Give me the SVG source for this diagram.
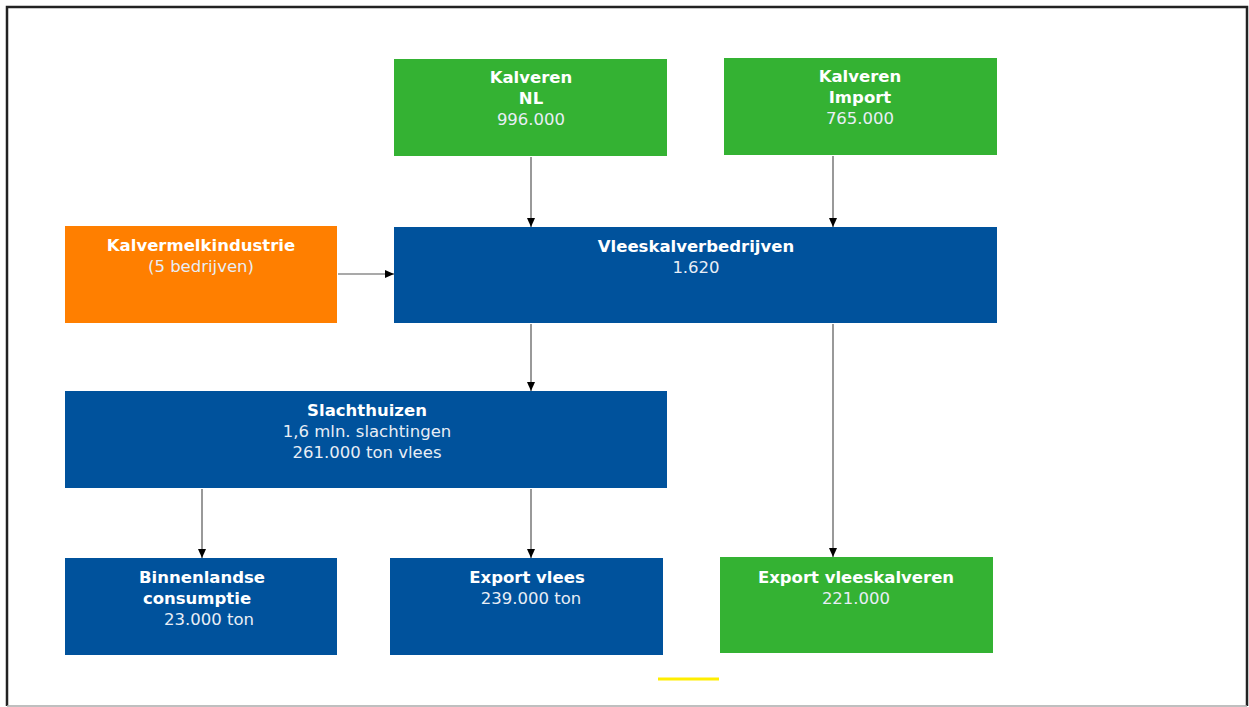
<svg xmlns="http://www.w3.org/2000/svg" width="1249" height="707" viewBox="0 0 1249 707">
<defs>
<marker id="ah" markerWidth="9" markerHeight="8" refX="9" refY="4" orient="auto" markerUnits="userSpaceOnUse">
<path d="M0,0 L9,4 L0,8 Z" fill="#000"/>
</marker>
<style>
.g{fill:#34b233}
.o{fill:#ff7f00}
.b{fill:#00529c}
text{font-family:"DejaVu Sans",Verdana,sans-serif;font-size:16.5px;fill:#fff;text-anchor:middle}
.t{font-weight:bold}
.n{fill:#e8eef6}
.c line{stroke:#555;stroke-width:1.2;marker-end:url(#ah)}
</style>
</defs>
<rect x="0" y="0" width="1249" height="707" fill="#fff"/>
<path d="M7,706 L7,7 L1247,7 L1247,706" fill="none" stroke="#222" stroke-width="2.5"/>
<line x1="7" y1="706" x2="1247" y2="706" stroke="#aaa" stroke-width="1.5"/>
<g id="kalveren-nl"><rect class="g" x="394" y="59" width="273" height="97"/><text class="t" x="531" y="83">Kalveren</text><text class="t" x="531" y="104">NL</text><text class="n" x="531" y="125">996.000</text></g>
<g id="kalveren-import"><rect class="g" x="724" y="58" width="273" height="97"/><text class="t" x="860" y="82">Kalveren</text><text class="t" x="860" y="103">Import</text><text class="n" x="860" y="124">765.000</text></g>
<g id="kalvermelkindustrie"><rect class="o" x="65" y="226" width="272" height="97"/><text class="t" x="201" y="251">Kalvermelkindustrie</text><text class="n" x="201" y="272">(5 bedrijven)</text></g>
<g id="vleeskalverbedrijven"><rect class="b" x="394" y="227" width="603" height="96"/><text class="t" x="696" y="252">Vleeskalverbedrijven</text><text class="n" x="696" y="273">1.620</text></g>
<g id="slachthuizen"><rect class="b" x="65" y="391" width="602" height="97"/><text class="t" x="367" y="416">Slachthuizen</text><text class="n" x="367" y="437">1,6 mln. slachtingen</text><text class="n" x="367" y="458">261.000 ton vlees</text></g>
<g id="binnenlandse-consumptie"><rect class="b" x="65" y="558" width="272" height="97"/><text class="t" x="202" y="583">Binnenlandse</text><text class="t" x="197" y="604">consumptie</text><text class="n" x="209" y="625">23.000 ton</text></g>
<g id="export-vlees"><rect class="b" x="390" y="558" width="273" height="97"/><text class="t" x="527" y="583">Export vlees</text><text class="n" x="531" y="604">239.000 ton</text></g>
<g id="export-vleeskalveren"><rect class="g" x="720" y="557" width="273" height="96"/><text class="t" x="856" y="583">Export vleeskalveren</text><text class="n" x="856" y="604">221.000</text></g>
<g class="c" id="connectors">
<line x1="531" y1="157" x2="531" y2="227"/>
<line x1="833" y1="156" x2="833" y2="227"/>
<line x1="338" y1="274" x2="394" y2="274"/>
<line x1="531" y1="324" x2="531" y2="391"/>
<line x1="833" y1="324" x2="833" y2="557"/>
<line x1="202" y1="489" x2="202" y2="558"/>
<line x1="531" y1="489" x2="531" y2="558"/>
</g>
<line x1="658" y1="679" x2="719" y2="679" stroke="#ffee00" stroke-width="3"/>
</svg>
